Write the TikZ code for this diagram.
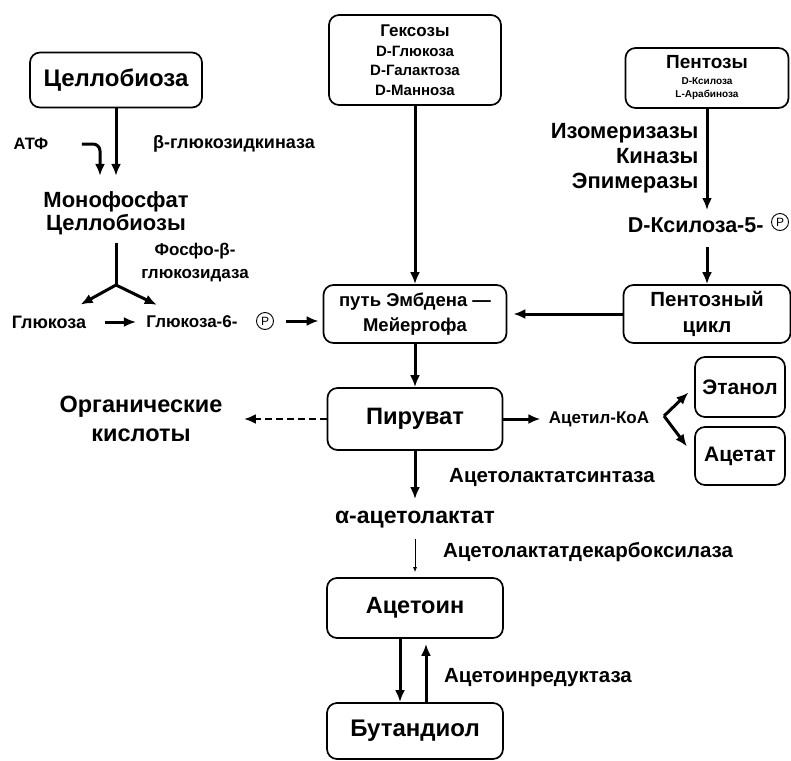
\documentclass[tikz,border=0pt]{standalone}
\usepackage{fontspec}
\setmainfont{Liberation Sans}
\usetikzlibrary{positioning,arrows.meta}
\newcommand{\fsz}[2]{\bfseries\fontsize{#1}{#2}\selectfont}
\tikzset{
	-{Latex[length=12pt,width=10pt]},% every connector is a thick arrow
	box/.style={rectangle, draw, rounded corners=10pt, line width=1.7pt, inner sep=0pt, align=center},
	txt/.style={inner sep=0pt, align=center},
	psym/.style={circle, draw, line width=0.9pt, inner sep=0pt, minimum size=17pt, font=\fontsize{12}{12}\selectfont}
}

\begin{document}
\begin{tikzpicture}[x=1pt,y=-1pt,line width=3pt]
	\tikzset{thin arrow/.style={line width=0.8pt, -{Latex[length=5pt,width=4pt]}}}
	\tikzset{dash arrow/.style={line width=2.6pt, dash pattern=on 7pt off 4pt}}
	\useasboundingbox (0,0) rectangle (791,760);
	% cellobiose branch
	\node[box, minimum width=172pt, minimum height=55pt, font=\fsz{24}{28}] (1) at (116,80) {Целлобиоза};
	\node[txt, font=\fsz{16.5}{18}] (2) at (31,144) {АТФ};
	\node[txt, font=\fsz{18}{20}] (3) at (234,144) {β-глюкозидкиназа};
	\node[txt, font=\fsz{22}{23}] (4) at (116,213) {Монофосфат\\Целлобиозы};
	\node[txt, font=\fsz{17}{23}] (5) at (195,263) {Фосфо-β-\\глюкозидаза};
	\node[txt, font=\fsz{18}{20}] (6) at (49,322) {Глюкоза};
	\node[txt, font=\fsz{17}{20}] (7) at (192,322) {Глюкоза-6-};
	\node[psym] (8) at (265,321) {P};
	\coordinate (9) at (116,285);
	% central column
	\node[box, minimum width=172pt, minimum height=90pt, font=\fsz{15}{19.5}] (11) at (415,60) {{\fontsize{17}{19.5}\selectfont Гексозы}\\D-Глюкоза\\D-Галактоза\\D-Манноза};
	\node[box, minimum width=183pt, minimum height=58pt, font=\fsz{18.5}{25}] (10) at (415,314) {путь Эмбдена —\\Мейергофа};
	\node[box, minimum width=175pt, minimum height=62pt, font=\fsz{23.7}{28}] (12) at (415,419) {Пируват};
	% pentoses
	\node[box, minimum width=163pt, minimum height=60pt, font=\fsz{10}{13}] (13) at (707,78) {{\fontsize{19}{13}\selectfont Пентозы}\\[3pt]D-Ксилоза\\L-Арабиноза};
	\node[txt, font=\fsz{22}{25}, align=right, anchor=east] (14) at (700,158) {Изомеризазы\\Киназы\\Эпимеразы};
	\node[txt, font=\fsz{21.5}{24}, anchor=east] (15) at (765,225) {D-Ксилоза-5-};
	\node[psym] (16) at (780,222) {P};
	\node[box, minimum width=167pt, minimum height=58pt, font=\fsz{20.5}{26}] (17) at (707,314) {Пентозный\\цикл};
	% products of pyruvate
	\node[txt, font=\fsz{17}{20}] (18) at (599,419) {Ацетил-КоА};
	\node[box, minimum width=90pt, minimum height=60pt, font=\fsz{21}{24}] (19) at (740,387) {Этанол};
	\node[box, minimum width=90pt, minimum height=58pt, font=\fsz{21}{24}] (20) at (740,456) {Ацетат};
	\coordinate (21) at (664,416);
	\node[txt, font=\fsz{23.5}{29}] (22) at (141,419) {Органические\\кислоты};
	% butanediol pathway
	\node[txt, font=\fsz{20.5}{24}] (23) at (552,477) {Ацетолактатсинтаза};
	\node[txt, font=\fsz{23}{26}] (24) at (415,520) {α-ацетолактат};
	\node[txt, font=\fsz{20.5}{24}] (25) at (588,552) {Ацетолактатдекарбоксилаза};
	\node[box, minimum width=176pt, minimum height=60pt, font=\fsz{23.5}{28}] (26) at (415,608) {Ацетоин};
	\node[box, minimum width=176pt, minimum height=56pt, font=\fsz{24}{28}] (27) at (415,731) {Бутандиол};
	\node[txt, font=\fsz{20.5}{24}] (28) at (538,678) {Ацетоинредуктаза};
	% connectors
	\draw[shorten >=14pt] (1) -- (4);
	\draw[rounded corners=7pt, shorten <=32pt, shorten >=14pt] (2.east) -| ([xshift=-16pt]4.north);
	\draw[-, shorten <=7pt] (4) -- (9);
	\draw[shorten >=20pt] (9) -- (6);
	\draw[shorten >=22pt] (9) -- (7);
	\draw[shorten <=17pt, shorten >=9pt] (6) -- (7);
	\draw[shorten <=12pt, shorten >=4pt] (8) -- (8 -| 10.west);
	\draw (11) -- (10);
	\draw (10) -- (12);
	\draw[shorten >=6pt] (13) -- (13 |- 15.north);
	\draw[shorten <=13pt] (13 |- 15.south) -- (17);
	\draw[shorten >=6pt] (17) -- (10);
	\draw[shorten >=7pt] (12) -- (18);
	\draw[shorten >=8pt] (21) -- (19.west);
	\draw[shorten >=12pt] (21) -- (20.west);
	\draw[dash arrow, shorten >=20pt] (12) -- (22);
	\draw[shorten >=11pt] (12) -- (24);
	\draw[thin arrow, shorten <=9pt, shorten >=5pt] (24) -- (26);
	\draw ([xshift=-15pt]26.south) -- ([xshift=-15pt]27.north);
	\draw[shorten >=5pt] ([xshift=11pt]27.north) -- ([xshift=11pt]26.south);
\end{tikzpicture}
\end{document}
